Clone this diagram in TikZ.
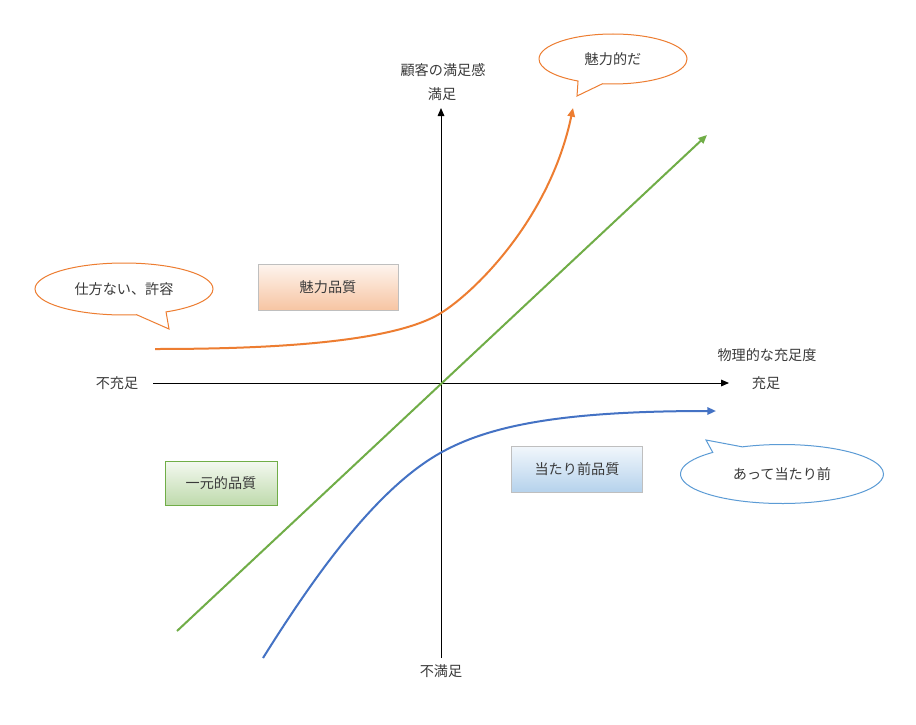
\documentclass[tikz,border=0pt]{standalone}
\usepackage{fontspec}
\setmainfont{Noto Sans CJK JP}
\usetikzlibrary{arrows.meta,shapes.callouts}
\definecolor{txt}{HTML}{3A3A3A}
\definecolor{orng}{HTML}{ED7D31}
\definecolor{blu}{HTML}{4472C4}
\definecolor{grn}{HTML}{70AD47}
\definecolor{bblu}{HTML}{5B9BD5}
\definecolor{boxgray}{HTML}{BFBFBF}
\tikzset{
  lbl/.style={text=txt, font=\fontsize{10.6pt}{12pt}\selectfont, inner sep=1pt},
  axis/.style={draw=black, line width=0.75pt, -{Triangle[length=6pt,width=5pt]}},
  curve/.style={line width=1.5pt, -{Triangle[length=6.5pt,width=5.5pt]}},
  qbox/.style={lbl, draw=boxgray, line width=0.75pt, minimum width=140*0.75pt, minimum height=46*0.75pt},
  bubble/.style={lbl, ellipse callout, fill=white, line width=0.75pt, inner sep=0pt, callout pointer arc=20},
}
\begin{document}
\begin{tikzpicture}[x=0.75pt, y=-0.75pt]
\useasboundingbox (0,0) rectangle (916,724);
\fill[white] (0,0) rectangle (916,724);

% axes
\coordinate (vb) at (441,658);
\coordinate (vt) at (441,108);
\coordinate (hl) at (153,383);
\coordinate (hr) at (729,383);
\draw[axis] (vb) -- (vt);
\draw[axis] (hl) -- (hr);

% axis labels
\node[lbl] (ytitle) at (443,70) {顧客の満足感};
\node[lbl] (ytop) at (442,94) {満足};
\node[lbl] (ybot) at (441,671) {不満足};
\node[lbl] (xleft) at (117,383) {不充足};
\node[lbl] (xright) at (766,383) {充足};
\node[lbl] (xtitle) at (767,355) {物理的な充足度};

% green line
\coordinate (gs) at (177,631);
\coordinate (ge) at (707,135);
\draw[curve, grn] (gs) -- (ge);

% orange curve
\coordinate (os) at (155,349);
\coordinate (om) at (441,313);
\coordinate (oe) at (573,108);
\draw[curve, orng] (os) .. controls (260,349) and (391,344) .. (om)
                        .. controls (476,291) and (550,218) .. (oe);

% blue curve
\coordinate (bs) at (263,658);
\coordinate (bm) at (442,452);
\coordinate (be) at (716,411);
\draw[curve, blu] (bs) .. controls (323,562) and (382,485) .. (bm)
                       .. controls (492,424.5) and (566,411) .. (be);

% quality boxes
\node[qbox, top color=orng!8, bottom color=orng!45, minimum width=140*0.75pt] (miryoku) at (328,287) {魅力品質};
\node[qbox, top color=bblu!8, bottom color=bblu!45, minimum width=131*0.75pt] (atari) at (577,469) {当たり前品質};
\node[qbox, draw=grn, top color=grn!8, bottom color=grn!45, minimum width=112*0.75pt, minimum height=44*0.75pt] (ichigen) at (221,483) {一元的品質};

% bubbles
\node[bubble, draw=orng, minimum width=148*0.75pt, minimum height=50*0.75pt, callout absolute pointer={(577,96)}] (b1) at (613,59) {魅力的だ};
\node[bubble, draw=orng, minimum width=178*0.75pt, minimum height=52*0.75pt, callout absolute pointer={(169,329)}] (b2) at (124,289) {仕方ない、許容};
\node[bubble, draw=bblu, minimum width=203*0.75pt, minimum height=59*0.75pt, callout absolute pointer={(706,440)}] (b3) at (782,474) {あって当たり前};
\end{tikzpicture}
\end{document}
